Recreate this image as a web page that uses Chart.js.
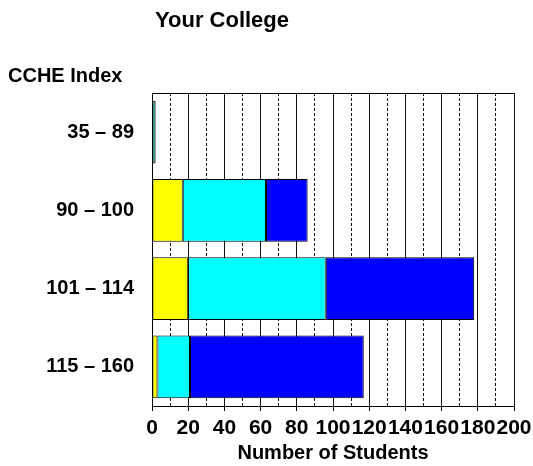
<!DOCTYPE html>
<html>
<head>
<meta charset="utf-8">
<title>Your College</title>
<script src="https://cdn.jsdelivr.net/npm/chart.js@4"></script>
<style>
	body { margin: 0; background: #fff; }
	#wrap { width: 533px; height: 466px; }
</style>
</head>
<body>
<div id="wrap"><canvas id="myChart" width="533" height="466"></canvas></div>
<script>
const chartTitle = 'Your College';
const yAxisTitle = 'CCHE Index';
const xAxisTitle = 'Number of Students';
const categories = ['35 \u2013 89', '90 \u2013 100', '101 \u2013 114', '115 \u2013 160'];
const tealValues = [2, 0, 0, 0];
const yellowValues = [0, 17, 20, 3];
const cyanValues = [0, 46, 76, 18];
const blueValues = [0, 23, 82, 96];

const FONT = "'Liberation Sans', Arial, Helvetica, sans-serif";

// draws the top edge of the frame and the two loose headings
const framePlugin = {
	id: 'frame',
	afterDatasetsDraw: (chart) => {
		const { ctx, chartArea } = chart;
		ctx.save();
		ctx.strokeStyle = '#000';
		ctx.lineWidth = 1;
		ctx.beginPath();
		ctx.moveTo(chartArea.left, chartArea.top + 0.5);
		ctx.lineTo(chartArea.right, chartArea.top + 0.5);
		ctx.stroke();
		ctx.restore();
	},
	afterDraw: (chart) => {
		const ctx = chart.ctx;
		ctx.save();
		ctx.fillStyle = '#000';
		ctx.textBaseline = 'alphabetic';
		ctx.font = 'bold 22px ' + FONT;
		ctx.textAlign = 'center';
		ctx.fillText(chartTitle, 222, 27);
		ctx.font = 'bold 20px ' + FONT;
		ctx.textAlign = 'left';
		ctx.fillText(yAxisTitle, 8, 82);
		ctx.restore();
	},
};

const makeSet = (label, values, color) => {
	return {
		label: label,
		data: values,
		backgroundColor: color,
		borderColor: '#000',
		borderWidth: 1,
		borderSkipped: false,
		barPercentage: 0.8,
		categoryPercentage: 1,
	};
};

const chart = new Chart(document.getElementById('myChart'), {
	type: 'bar',
	data: {
		labels: categories,
		datasets: [
			makeSet('teal', tealValues, '#0f8f8f'),
			makeSet('yellow', yellowValues, '#ffff00'),
			makeSet('cyan', cyanValues, '#00ffff'),
			makeSet('blue', blueValues, '#0000ff'),
		],
	},
	options: {
		indexAxis: 'y',
		responsive: false,
		animation: false,
		layout: { padding: { top: 93, right: 19, bottom: 0, left: 0 } },
		plugins: {
			legend: { display: false },
			tooltip: { enabled: false },
		},
		scales: {
			x: {
				stacked: true,
				min: 0,
				max: 200,
				afterFit: (scale) => {
					scale.height = 60;
					scale.paddingRight = 0;
				},
				ticks: {
					stepSize: 10,
					autoSkip: false,
					maxRotation: 0,
					padding: 5,
					color: '#000',
					font: { family: FONT, size: 21, weight: 'bold' },
					callback: (v) => (v % 20 === 0 ? v : ''),
				},
				grid: {
					color: '#111',
					lineWidth: 1,
					tickLength: 5,
					tickColor: (c) => (c.tick && c.tick.value % 20 === 0 ? '#000' : 'rgba(0,0,0,0)'),
				},
				border: {
					display: true,
					color: '#000',
					dash: (c) => (c.tick && c.tick.value % 20 !== 0 ? [3, 2] : []),
				},
				title: {
					display: true,
					text: xAxisTitle,
					color: '#000',
					padding: { top: 0, bottom: 1 },
					font: { family: FONT, size: 20, weight: 'bold' },
				},
			},
			y: {
				stacked: true,
				afterFit: (scale) => {
					scale.width = 152;
				},
				ticks: {
					padding: 18,
					color: '#000',
					font: { family: FONT, size: 20, weight: 'bold' },
				},
				grid: { display: false, drawTicks: false },
				border: { display: true, color: '#000' },
			},
		},
	},
	plugins: [framePlugin],
});
</script>
</body>
</html>
